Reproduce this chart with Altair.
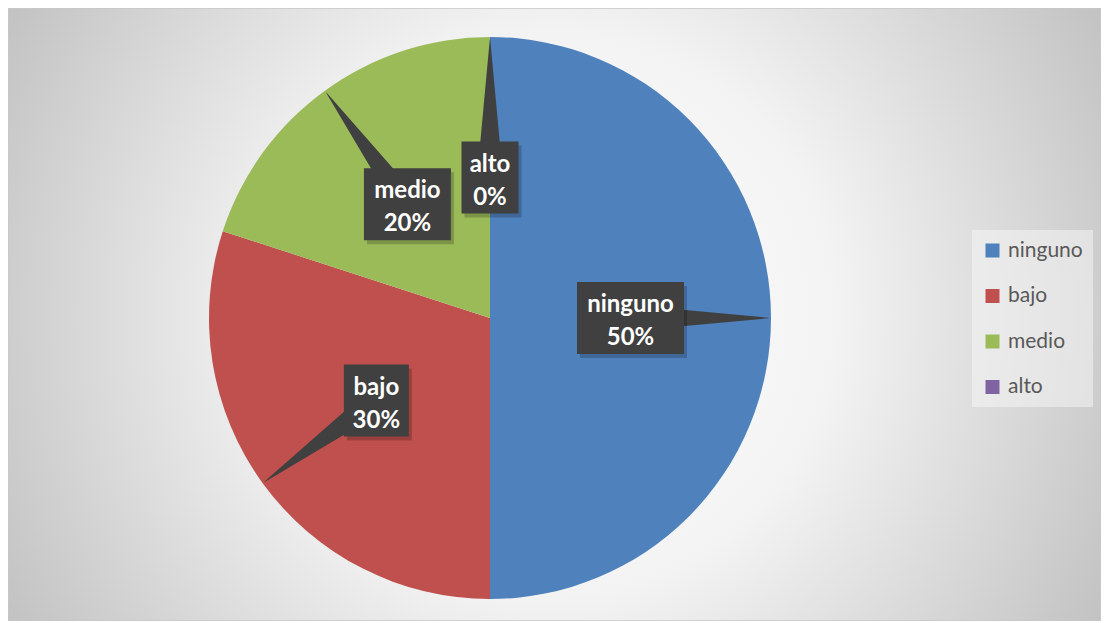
import altair as alt
import pandas as pd

# ---- data ----
categories = ["ninguno", "bajo", "medio", "alto"]
values = [50, 30, 20, 0]
colors = ["#4F81BD", "#C0504D", "#9BBB59", "#8064A2"]

df = pd.DataFrame({"cat": categories, "val": values, "idx": list(range(len(categories)))})

# ---- layout constants ----
W, H = 1093, 613
CX, CY, R = 482, 310, 281
LABEL_R = 0.5
BOX_H = 72
EXTRA = (W - H) / 2

bg = alt.Chart(pd.DataFrame({"a": [0]})).mark_rect(
    fill=alt.Gradient(
        gradient="radial",
        stops=[alt.GradientStop(color="#ffffff", offset=0),
               alt.GradientStop(color="#f3f3f3", offset=0.45),
               alt.GradientStop(color="#c2c2c2", offset=1)],
        x1=0.5, y1=0.5, x2=0.5, y2=0.5, r1=0, r2=0.575,
    ),
    clip=True,
).encode(x=alt.value(0), x2=alt.value(W), y=alt.value(-EXTRA), y2=alt.value(H + EXTRA))

border = alt.Chart(pd.DataFrame({"a": [0]})).mark_rect(
    fill=None, stroke="#c8c8c8", strokeWidth=1.5,
).encode(x=alt.value(0), x2=alt.value(W), y=alt.value(0), y2=alt.value(H))

base = alt.Chart(df)

pie = base.mark_arc(outerRadius=R).encode(
    theta=alt.Theta("val:Q", stack=True),
    order=alt.Order("idx:Q"),
    color=alt.Color(
        "cat:N",
        scale=alt.Scale(domain=categories, range=colors),
        sort=categories,
        legend=alt.Legend(
            title=None, orient="none", legendX=964, legendY=222,
            symbolType="square", symbolSize=196, symbolStrokeWidth=0,
            symbolOpacity=1,
            labelFontSize=21, labelFont="Lato", labelColor="#595959",
            labelOffset=5, rowPadding=23.5, padding=10,
            fillColor="rgba(248,248,248,0.5)",
        ),
    ),
    x=alt.value(CX), y=alt.value(CY),
)

lab = base.transform_window(
    cum="sum(val)", sort=[alt.SortField("idx")], frame=[None, 0]
).transform_joinaggregate(total="sum(val)").transform_calculate(
    mid="(datum.cum - datum.val/2)/datum.total*2*PI",
    pct="round(datum.val/datum.total*100) + '%'",
).transform_calculate(
    label="datum.cat + '\\n' + datum.pct",
    lx=f"{CX} + {R*LABEL_R}*sin(datum.mid)",
    ly=f"{CY} - {R*LABEL_R}*cos(datum.mid)",
    # rough text-width estimate of the bold label words
    nwide="length(replace(datum.cat, regexp('[ijlt]', 'g'), ''))",
    nm="length(datum.cat) - length(replace(datum.cat, regexp('m', 'g'), ''))",
).transform_calculate(
    tw1="14*datum.nwide + 6*(length(datum.cat) - datum.nwide) + 8*datum.nm",
    tw2="13*(length(datum.pct) - 1) + 22",
).transform_calculate(
    bw="max(datum.tw1, datum.tw2) + 17",
).transform_calculate(
    x1="datum.lx - datum.bw/2", x2="datum.lx + datum.bw/2",
    y1=f"datum.ly - {BOX_H/2}", y2=f"datum.ly + {BOX_H/2}",
    sx1="datum.lx - datum.bw/2 + 3", sx2="datum.lx + datum.bw/2 + 3",
    sy1=f"datum.ly - {BOX_H/2} + 4", sy2=f"datum.ly + {BOX_H/2} + 4",
)

ptr = lab.transform_calculate(r_in=f"{LABEL_R}", r_out="0.99").transform_fold(
    ["r_in", "r_out"], as_=["k", "rr"]
).transform_calculate(
    px=f"{CX} + {R}*datum.rr*sin(datum.mid)",
    py=f"{CY} - {R}*datum.rr*cos(datum.mid)",
    w="datum.k == 'r_in' ? 26 : 0.5",
).mark_trail(color="#404040").encode(
    x=alt.X("px:Q", scale=None, axis=None),
    y=alt.Y("py:Q", scale=None, axis=None),
    size=alt.Size("w:Q", scale=None, legend=None),
    detail="cat:N",
    order=alt.Order("rr:Q"),
)

shadow = lab.mark_rect(fill="#000000", opacity=0.2).encode(
    x=alt.X("sx1:Q", scale=None, axis=None), x2="sx2:Q",
    y=alt.Y("sy1:Q", scale=None, axis=None), y2="sy2:Q",
)

box = lab.mark_rect(fill="#404040").encode(
    x=alt.X("x1:Q", scale=None, axis=None), x2="x2:Q",
    y=alt.Y("y1:Q", scale=None, axis=None), y2="y2:Q",
)

txt = lab.mark_text(
    font="Lato", fontWeight="bold", fontSize=24, color="white",
    lineBreak="\n", lineHeight=33, align="center", baseline="middle", dy=-13,
).encode(
    x=alt.X("lx:Q", scale=None, axis=None),
    y=alt.Y("ly:Q", scale=None, axis=None),
    text="label:N",
)

chart = alt.layer(bg, border, pie, ptr, shadow, box, txt).properties(
    width=W, height=H, padding=0, autosize=alt.AutoSizeParams(type="none"),
).configure_view(strokeWidth=0)

chart.save("out.html", embed_options={"renderer": "svg", "actions": False})
